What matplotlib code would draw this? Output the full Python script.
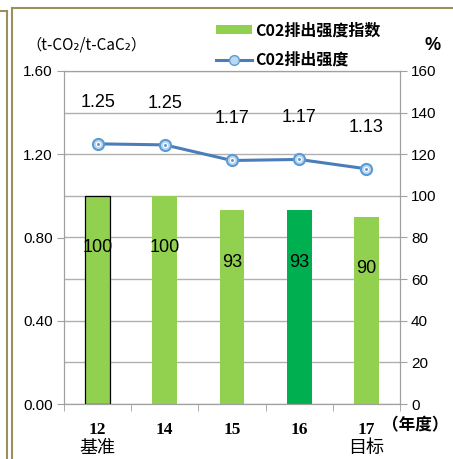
import numpy as np
import matplotlib.pyplot as plt
from matplotlib.lines import Line2D
from matplotlib.patches import Patch

# data
years = ['12', '14', '15', '16', '17']
sub_labels = ['基准', '', '', '', '目标']
index_vals = [100, 100, 93, 93, 90]          # CO2排出强度指数 (%)
intensity = [1.25, 1.245, 1.17, 1.175, 1.13]  # CO2排出强度 (t-CO2/t-CaC2)
intensity_txt = ['1.25', '1.25', '1.17', '1.17', '1.13']

bar_colors = ['#92D050', '#92D050', '#92D050', '#00B050', '#92D050']
line_color = '#4A7EBB'

cjk = ['Noto Sans CJK SC', 'DejaVu Sans']
num = 'Liberation Sans'

fig = plt.figure(figsize=(4.53, 4.59), dpi=100)
ax = fig.add_axes([64/453, 55/459, 336/453, 333/459])
ax2 = ax.twinx()

x = np.arange(len(years))

# bars on the % axis
ax2.set_ylim(0, 160)
ax2.set_yticks(np.arange(0, 161, 20))
ax2.yaxis.grid(True, color='#B0B0B0', linewidth=1)
ax2.set_axisbelow(True)
bars = ax2.bar(x, index_vals, width=0.37, color=bar_colors, zorder=2)
bars[0].set_edgecolor('black')
bars[0].set_linewidth(0.9)
for xi, v in zip(x, index_vals):
    ax2.text(xi, v - 25, str(v), ha='center', va='center', fontsize=13,
             family=num, zorder=3)

# line on the left axis, drawn above the bars
ax.set_zorder(ax2.get_zorder() + 1)
ax.patch.set_visible(False)
ax.set_ylim(0, 1.6)
ax.set_yticks(np.arange(0, 1.61, 0.4))
ax.set_yticklabels([f'{v:.2f}' for v in np.arange(0, 1.61, 0.4)])
ax.plot(x, intensity, color=line_color, linewidth=2.2, zorder=4)
ax.plot(x, intensity, 'o', markersize=8, markerfacecolor='#BDD7EE',
        markeredgecolor='#5B9BD5', markeredgewidth=1.5, zorder=5)
ax.plot(x, intensity, 'o', markersize=3, markerfacecolor='#5B9BD5',
        markeredgecolor='white', markeredgewidth=0.8, zorder=6)
for xi, v, t in zip(x, intensity, intensity_txt):
    ax.text(xi, v + 0.2, t, ha='center', va='center', fontsize=13, family=num)

ax.set_xlim(-0.5, len(years) - 0.5)
ax.set_xticks(x)
ax.set_xticklabels(years, family='Liberation Serif', fontweight='bold',
                   fontsize=12.5)
ax.set_xticks(np.arange(-0.5, len(years), 1), minor=True)
ax.tick_params(axis='x', which='major', length=0, pad=13)
ax.tick_params(axis='x', which='minor', length=5, color='#A0A0A0', direction='out')

for a in (ax, ax2):
    for s in a.spines.values():
        s.set_color('#A0A0A0')
    a.spines['top'].set_visible(True)
ax.tick_params(axis='y', length=5, color='#A0A0A0', labelsize=11, pad=3)
ax2.tick_params(axis='y', length=5, color='#A0A0A0', labelsize=11, pad=3)
for lab in ax.get_yticklabels() + ax2.get_yticklabels():
    lab.set_family(num)

for xi, s in zip(x, sub_labels):
    if s:
        ax.text(xi, -0.21, s, ha='center', va='center', fontsize=13,
                family=cjk, clip_on=False)
ax.text(4.23, -0.103, '（年度）', ha='left', va='center', fontsize=12,
        family=cjk, fontweight='bold', clip_on=False)

fig.text(26/453, 1 - 45/459, '（t-CO₂/t-CaC₂）', ha='left', va='center',
         fontsize=11, family=cjk, fontweight='medium')
fig.text(433/453, 1 - 45/459, '%', ha='center', va='center',
         fontsize=13, family=num, fontweight='bold')

handles = [Patch(facecolor='#92D050', edgecolor='none'),
           Line2D([], [], color=line_color, linewidth=2.2, marker='o',
                  markersize=7, markerfacecolor='#BDD7EE',
                  markeredgecolor='#5B9BD5')]
leg = fig.legend(handles, ['C02排出强度指数', 'C02排出强度'], loc='upper left',
                 bbox_to_anchor=(202/453, 1 - 8/459), frameon=False,
                 handlelength=2.2, handleheight=0.45, handletextpad=0.2,
                 labelspacing=0.85, prop={'family': cjk, 'size': 11.5,
                                          'weight': 'bold'})

# frame lines around the panel
frame = '#9C8F5E'
fig.add_artist(Line2D([12/453, 12/453], [0, 1 - 8/459], color=frame, lw=1.5,
                      transform=fig.transFigure))
fig.add_artist(Line2D([12/453, 1], [1 - 8/459, 1 - 8/459], color=frame, lw=1.5,
                      transform=fig.transFigure))
fig.add_artist(Line2D([7/453, 7/453], [0, 1 - 11/459], color=frame, lw=1.5,
                      transform=fig.transFigure))
fig.add_artist(Line2D([0, 7/453], [1 - 11/459, 1 - 11/459], color=frame, lw=1.5,
                      transform=fig.transFigure))

fig.savefig('out.png', dpi=100)
